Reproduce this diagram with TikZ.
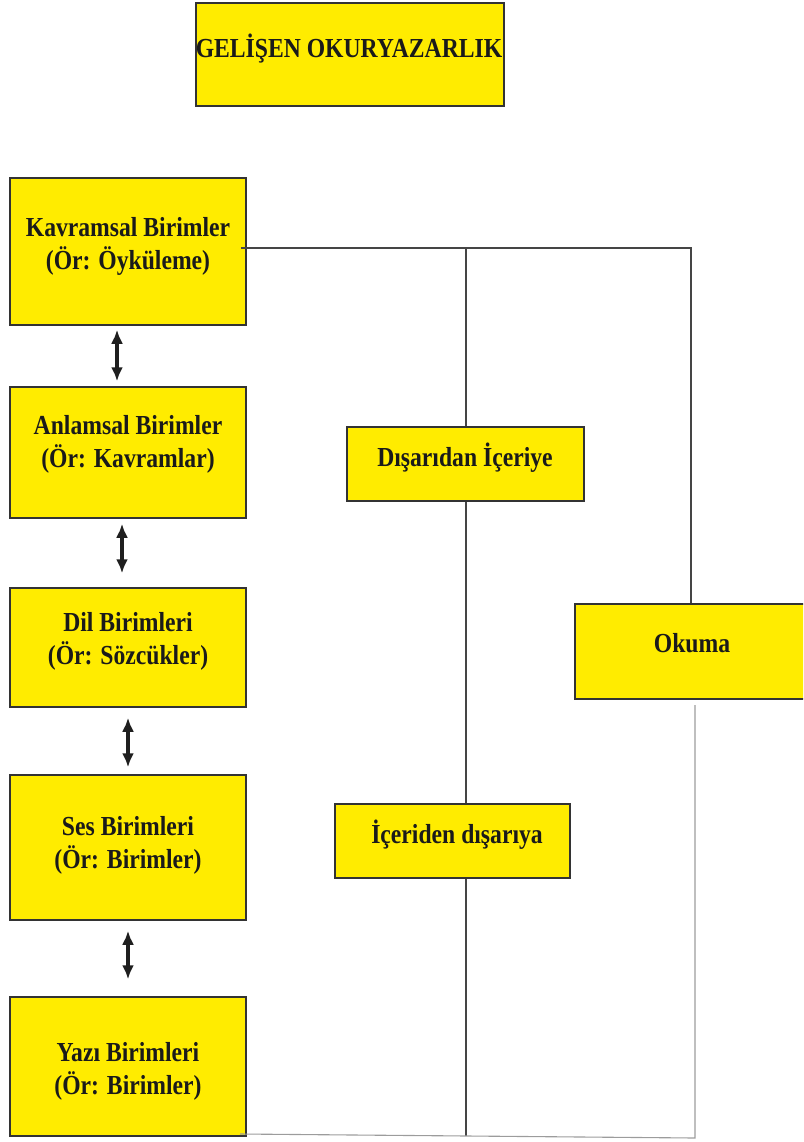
\documentclass[tikz,border=0pt]{standalone}
\usepackage{fontspec}
\setmainfont{Liberation Serif}[FakeStretch=0.86]
\usetikzlibrary{arrows.meta}
\definecolor{boxyellow}{HTML}{FFEC00}
\definecolor{edgecol}{HTML}{333333}
\definecolor{linedark}{HTML}{454545}
\definecolor{linelight}{HTML}{9C9C9C}
\definecolor{txt}{HTML}{1A1A1A}
\tikzset{
  ybox/.style={draw=edgecol, line width=1.5pt, fill=boxyellow, inner sep=0pt},
  btext/.style={font=\fontsize{27.5pt}{33pt}\selectfont\bfseries, text=txt, inner sep=0pt, align=center, anchor=base},
  conn/.style={draw=linedark, line width=1.2pt},
  connlight/.style={draw=linelight, line width=1.1pt},
  dbl/.style={draw=black!88, line width=4.5pt, {Latex[length=14pt,width=12pt]}-{Latex[length=14pt,width=12pt]}}
}
\begin{document}
\begin{tikzpicture}[x=1pt,y=-1pt]
\useasboundingbox (0,0) rectangle (803,1142);
\begin{scope}
\clip (0,0) rectangle (803,1142);
% boxes
\node[ybox, minimum width=308pt, minimum height=103pt] (title) at (350,54.5) {};
\node[ybox, minimum width=236pt, minimum height=147pt] (kav) at (128,251.5) {};
\node[ybox, minimum width=236pt, minimum height=131pt] (anl) at (128,452.5) {};
\node[ybox, minimum width=236pt, minimum height=119pt] (dil) at (128,647.5) {};
\node[ybox, minimum width=236pt, minimum height=145pt] (ses) at (128,847.5) {};
\node[ybox, minimum width=236pt, minimum height=139pt] (yaz) at (128,1066.5) {};
\node[ybox, minimum width=237pt, minimum height=74pt] (dis) at (465.5,464) {};
\node[ybox, minimum width=235pt, minimum height=74pt] (ic) at (452.5,841) {};
\node[ybox, minimum width=231pt, minimum height=95pt] (ok) at (690.5,651.5) {};
% texts (anchor=base is the baseline of the last line)
\node[btext] (t-title) at (349,58) {GELİŞEN OKURYAZARLIK};
\node[btext] (t-kav) at (128,269) {Kavramsal Birimler\\(Ör: Öyküleme)};
\node[btext] (t-anl) at (128,467) {Anlamsal Birimler\\(Ör: Kavramlar)};
\node[btext] (t-dil) at (128,664) {Dil Birimleri\\(Ör: Sözcükler)};
\node[btext] (t-ses) at (128,868) {Ses Birimleri\\(Ör: Birimler)};
\node[btext] (t-yaz) at (128,1094) {Yazı Birimleri\\(Ör: Birimler)};
\node[btext] (t-dis) at (465,466) {Dışarıdan İçeriye};
\node[btext] (t-ic) at (457,843) {İçeriden dışarıya};
\node[btext] (t-ok) at (692,652) {Okuma};
% double arrows
\draw[dbl, shorten <=4pt, shorten >=5pt] ([xshift=-11pt]kav.south) -- ([xshift=-11pt]anl.north);
\draw[dbl, shorten <=5pt, shorten >=14pt] ([xshift=-6pt]anl.south) -- ([xshift=-6pt]dil.north);
\draw[dbl, shorten <=10pt, shorten >=7pt] (dil.south) -- (ses.north);
\draw[dbl, shorten <=10pt, shorten >=17pt] (ses.south) -- (yaz.north);
% connectors
\coordinate (j1) at (466,248);
\coordinate (j2) at (691,248);
\coordinate (b1) at (466,1136);
\coordinate (r1) at (695,705);
\coordinate (r2) at (695,1138);
\coordinate (yazr) at (240,1134);
\draw[conn] ([xshift=-6pt,yshift=3.5pt]kav.east) -- (j2) -- (j2 |- ok.north);
\draw[conn] (j1) -- (j1 |- dis.north);
\draw[conn] (j1 |- dis.south) -- (j1 |- ic.north);
\draw[conn] (j1 |- ic.south) -- (b1);
\draw[connlight] (r1) -- (r2) -- (yazr);
\end{scope}
\end{tikzpicture}
\end{document}
